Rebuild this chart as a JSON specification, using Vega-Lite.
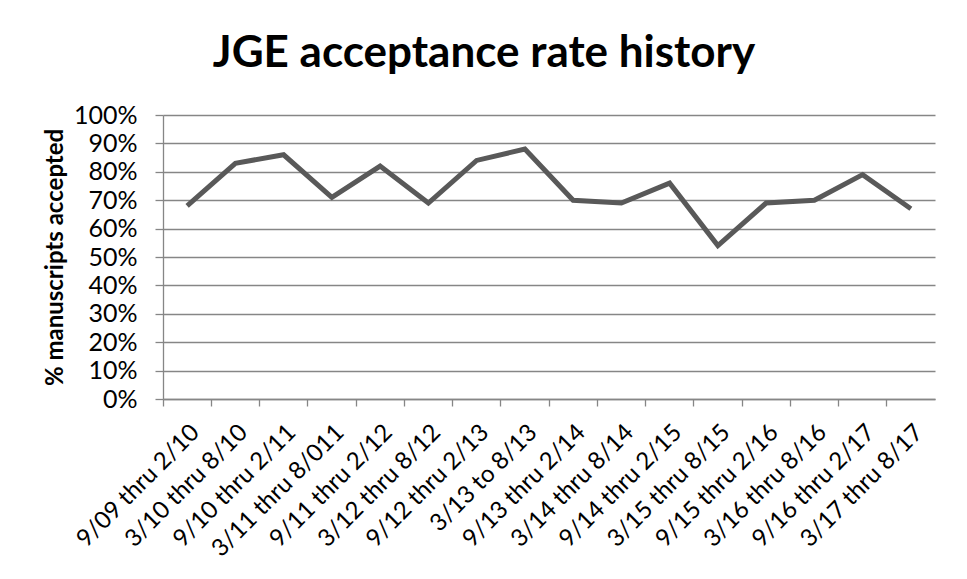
{
  "$schema": "https://vega.github.io/schema/vega-lite/v6.json",
  "width": 772,
  "height": 284,
  "autosize": {"type": "none"},
  "padding": {"left": 163, "top": 115, "right": 32, "bottom": 180},
  "background": "white",
  "title": {
    "text": "JGE acceptance rate history",
    "font": "Lato",
    "fontSize": 44,
    "fontWeight": "bold",
    "color": "black",
    "anchor": "middle",
    "dx": -65,
    "offset": 27
  },
  "data": {
    "values": [
      {"period": "9/09 thru 2/10", "rate": 0.68},
      {"period": "3/10 thru 8/10", "rate": 0.83},
      {"period": "9/10 thru 2/11", "rate": 0.86},
      {"period": "3/11 thru 8/011", "rate": 0.71},
      {"period": "9/11 thru 2/12", "rate": 0.82},
      {"period": "3/12 thru 8/12", "rate": 0.69},
      {"period": "9/12 thru 2/13", "rate": 0.84},
      {"period": "3/13 to 8/13", "rate": 0.88},
      {"period": "9/13 thru 2/14", "rate": 0.70},
      {"period": "3/14 thru 8/14", "rate": 0.69},
      {"period": "9/14 thru 2/15", "rate": 0.76},
      {"period": "3/15 thru 8/15", "rate": 0.54},
      {"period": "9/15 thru 2/16", "rate": 0.69},
      {"period": "3/16 thru 8/16", "rate": 0.70},
      {"period": "9/16 thru 2/17", "rate": 0.79},
      {"period": "3/17 thru 8/17", "rate": 0.67}
    ]
  },
  "mark": {"type": "line", "color": "#595959", "strokeWidth": 5, "strokeJoin": "miter", "strokeCap": "butt"},
  "encoding": {
    "x": {
      "field": "period",
      "type": "nominal",
      "sort": null,
      "bandPosition": 0.5,
      "scale": {"type": "band", "paddingInner": 0, "paddingOuter": 0},
      "axis": {
        "title": null,
        "bandPosition": 0,
        "labelAngle": -45,
        "labelFont": "Lato",
        "labelFontSize": 24,
        "labelColor": "black",
        "labelPadding": 14,
        "tickSize": 7,
        "tickColor": "#868686",
        "tickWidth": 1.3,
        "domainColor": "#868686",
        "domainWidth": 1.3,
        "grid": false,
        "labelOverlap": false
      }
    },
    "y": {
      "field": "rate",
      "type": "quantitative",
      "scale": {"domain": [0, 1], "nice": false},
      "axis": {
        "title": "% manuscripts accepted",
        "titleFont": "Lato",
        "titleFontSize": 24,
        "titleFontWeight": "bold",
        "titleColor": "black",
        "titlePadding": 6,
        "values": [0, 0.1, 0.2, 0.3, 0.4, 0.5, 0.6, 0.7, 0.8, 0.9, 1],
        "format": ".0%",
        "labelFont": "Lato",
        "labelFontSize": 25,
        "labelColor": "black",
        "labelPadding": 18,
        "tickSize": 8,
        "tickColor": "#868686",
        "tickWidth": 1.3,
        "domainColor": "#868686",
        "domainWidth": 1.3,
        "grid": true,
        "gridColor": "#868686",
        "gridWidth": 1.3,
        "labelOverlap": false
      }
    }
  },
  "config": {"view": {"stroke": null}}
}
